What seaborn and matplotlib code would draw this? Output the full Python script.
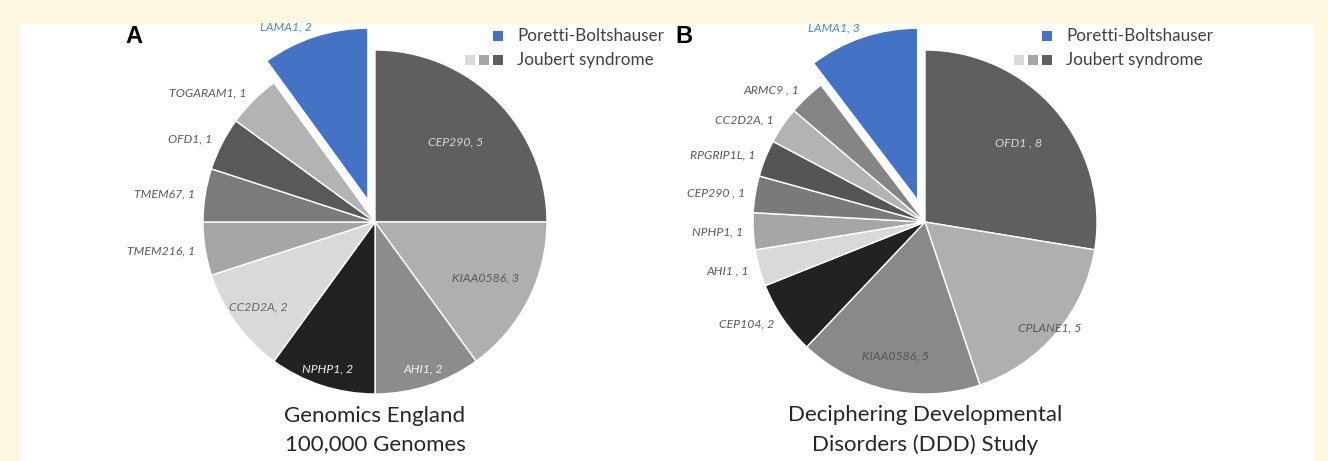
import matplotlib
matplotlib.use("Agg")
import matplotlib.pyplot as plt
import seaborn as sns
from matplotlib.patches import Rectangle
import numpy as np

# Panel A - Genomics England 100,000 Genomes
genes_a = ['CEP290', 'KIAA0586', 'AHI1', 'NPHP1', 'CC2D2A', 'TMEM216',
           'TMEM67', 'OFD1', 'TOGARAM1', 'LAMA1']
counts_a = [5, 3, 2, 2, 2, 1, 1, 1, 1, 2]

# Panel B - DDD study (trailing spaces are in the original labels)
genes_b = ['OFD1 ', 'CPLANE1', 'KIAA0586', 'CEP104', 'AHI1 ', 'NPHP1',
           'CEP290 ', 'RPGRIP1L', 'CC2D2A', 'ARMC9 ', 'LAMA1']
counts_b = [8, 5, 5, 2, 1, 1, 1, 1, 1, 1, 3]

titles = ['Genomics England\n100,000 Genomes',
          'Deciphering Developmental\nDisorders (DDD) Study']
panel_letters = ['A', 'B']
legend_labels = ['Poretti-Boltshauser', 'Joubert syndrome']

# styling
BLUE = '#4472c4'
colors_a = ['#5f5f5f', '#afafaf', '#8c8c8c', '#222222', '#d9d9d9', '#a6a6a6',
            '#7b7b7b', '#595959', '#b3b3b3', BLUE]
colors_b = ['#5f5f5f', '#afafaf', '#898989', '#222222', '#d9d9d9', '#a6a6a6',
            '#7a7a7a', '#555555', '#b3b3b3', '#858585', BLUE]
# labels drawn inside the slice: radius fraction and text colour
inside_a = {'CEP290': (0.66, '#d9d9d9'), 'KIAA0586': (0.72, '#595959'),
            'AHI1': (0.9, '#f2f2f2'), 'NPHP1': (0.9, '#f2f2f2'),
            'CC2D2A': (0.84, '#666666')}
inside_b = {'OFD1 ': (0.71, '#d9d9d9'), 'CPLANE1': (0.95, '#595959'),
            'KIAA0586': (0.8, '#555555')}

W, H = 1328, 461
R = 172
EXPLODE = 23

sns.set_theme(style='white')
plt.rcParams['font.family'] = ['Lato', 'DejaVu Sans']

fig = plt.figure(figsize=(W / 100, H / 100), dpi=100, facecolor='#fef8e0')
ax = fig.add_axes([0, 0, 1, 1])
ax.add_patch(Rectangle((20, 0), 1293, 437, facecolor='white', edgecolor='none', zorder=0))


def draw_panel(ax, genes, counts, colors, inside, center, title, letter, legend_x):
    explode = [EXPLODE if g == 'LAMA1' else 0 for g in genes]
    wedges, _ = ax.pie(counts, colors=colors, startangle=90, counterclock=False,
                       explode=explode, radius=R, center=center,
                       wedgeprops=dict(edgecolor='white', linewidth=1.0))
    for w, g, n in zip(wedges, genes, counts):
        mid = np.deg2rad((w.theta1 + w.theta2) / 2)
        cx, cy = w.center
        txt = f"{g}, {n}"
        if g in inside:
            frac, col = inside[g]
            ax.text(cx + frac * R * np.cos(mid), cy + frac * R * np.sin(mid), txt,
                    ha='center', va='center', fontsize=8.8, style='italic', color=col)
        else:
            col = '#3f8ad6' if g == 'LAMA1' else '#595959'
            ha = 'left' if np.cos(mid) > 0 else 'right'
            ax.text(cx + 1.06 * R * np.cos(mid), cy + 1.06 * R * np.sin(mid), txt,
                    ha=ha, va='center', fontsize=8.8, style='italic', color=col)

    ax.text(center[0], 31, title, ha='center', va='center', fontsize=16,
            color='#262626', linespacing=1.55)
    ax.text(center[0] - 241, H - 37, letter, ha='center', va='center', fontsize=17,
            fontweight='bold', family='Liberation Sans', color='black')

    # legend
    sq = 10
    ax.add_patch(Rectangle((legend_x - 5, H - 36 - 5), sq, sq, facecolor=BLUE, edgecolor='none'))
    for dx, c in zip([-28, -14, 0], ['#d9d9d9', '#a6a6a6', '#5f5f5f']):
        ax.add_patch(Rectangle((legend_x + dx - 5, H - 60 - 5), sq, sq, facecolor=c, edgecolor='none'))
    for yy, lab in zip([36, 60], legend_labels):
        ax.text(legend_x + 19, H - yy, lab, ha='left', va='center', fontsize=12.3, color='#404040')


draw_panel(ax, genes_a, counts_a, colors_a, inside_a, (375, H - 222),
           titles[0], panel_letters[0], 498)
draw_panel(ax, genes_b, counts_b, colors_b, inside_b, (925, H - 222),
           titles[1], panel_letters[1], 1047)

ax.set_xlim(0, W)
ax.set_ylim(0, H)
ax.set_aspect('auto')
ax.axis('off')

fig.savefig('out.png', dpi=100, facecolor=fig.get_facecolor())
